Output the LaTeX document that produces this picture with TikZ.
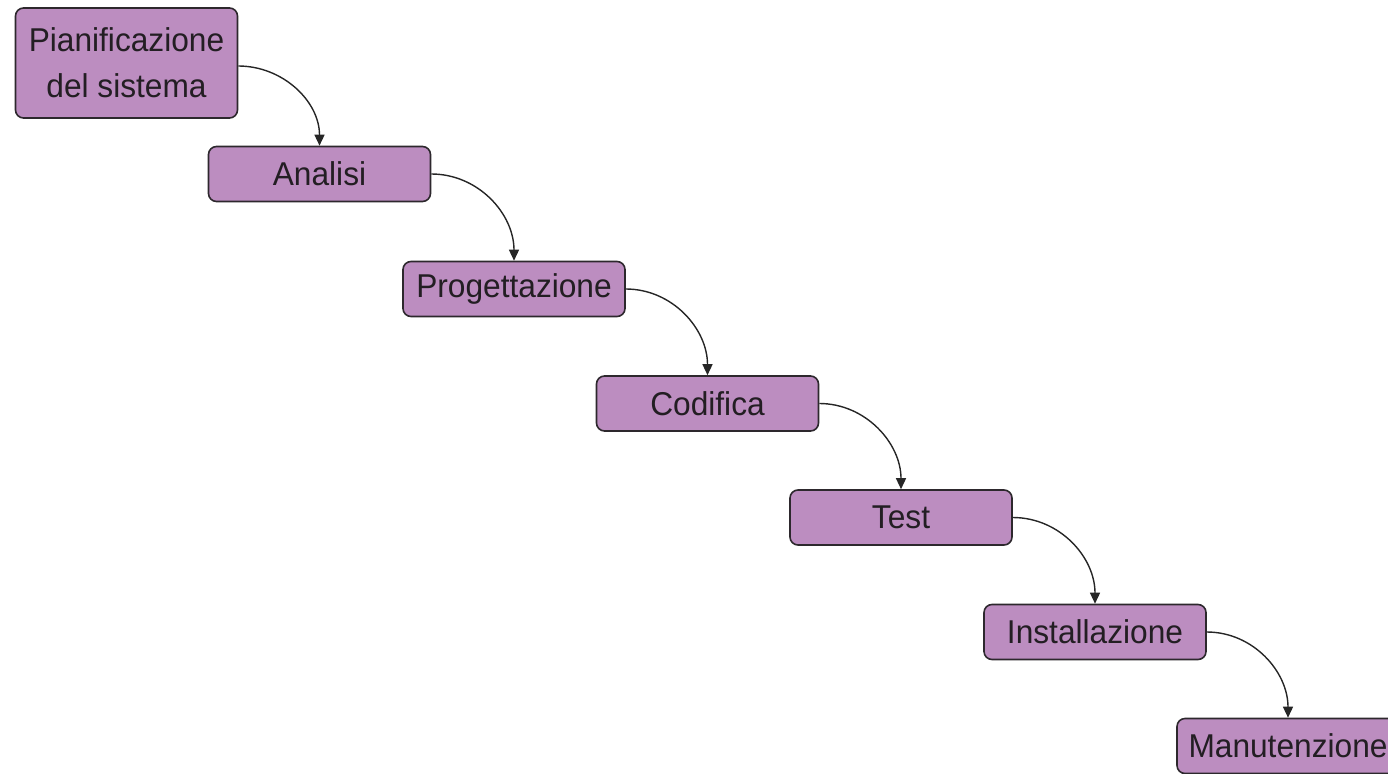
\documentclass[tikz,border=0pt]{standalone}
\usepackage{fontspec}
\setmainfont[FakeStretch=0.96]{Liberation Sans}
\usetikzlibrary{arrows.meta}
\definecolor{boxfill}{RGB}{188,141,192}
\definecolor{boxline}{RGB}{45,40,45}
\definecolor{txt}{RGB}{35,30,35}
\tikzset{
  phase/.style={draw=boxline, line width=1.6pt, fill=boxfill, rounded corners=8pt,
    minimum width=222pt, minimum height=55pt, inner sep=0pt, align=center,
    font=\fontsize{33}{46}\selectfont, text=txt},
  flow/.style={draw=black!85, line width=1.4pt, -{Triangle[width=10pt,length=11pt]},
    out=0, in=90, looseness=1}
}
\begin{document}
\begin{tikzpicture}[x=1pt,y=-1pt]
\useasboundingbox (0,0) rectangle (1388,773);
\clip (0,0) rectangle (1388,773);
\node[phase, minimum height=110pt] (p1) at (126.5,63) {Pianificazione\\del sistema};
\node[phase] (p2) at (319.5,174) {Analisi};
\node[phase] (p3) at (514,289) {Progettazione};
\node[phase] (p4) at (707.5,403.5) {Codifica};
\node[phase] (p5) at (901,517.5) {Test};
\node[phase] (p6) at (1095,632) {Installazione};
\node[phase] (p7) at (1288,746) {Manutenzione};
\draw[flow] ([yshift=-3pt]p1.east) to (p2.north);
\draw[flow] (p2.east) to (p3.north);
\draw[flow] (p3.east) to (p4.north);
\draw[flow] (p4.east) to (p5.north);
\draw[flow] (p5.east) to (p6.north);
\draw[flow] (p6.east) to (p7.north);
\end{tikzpicture}
\end{document}
